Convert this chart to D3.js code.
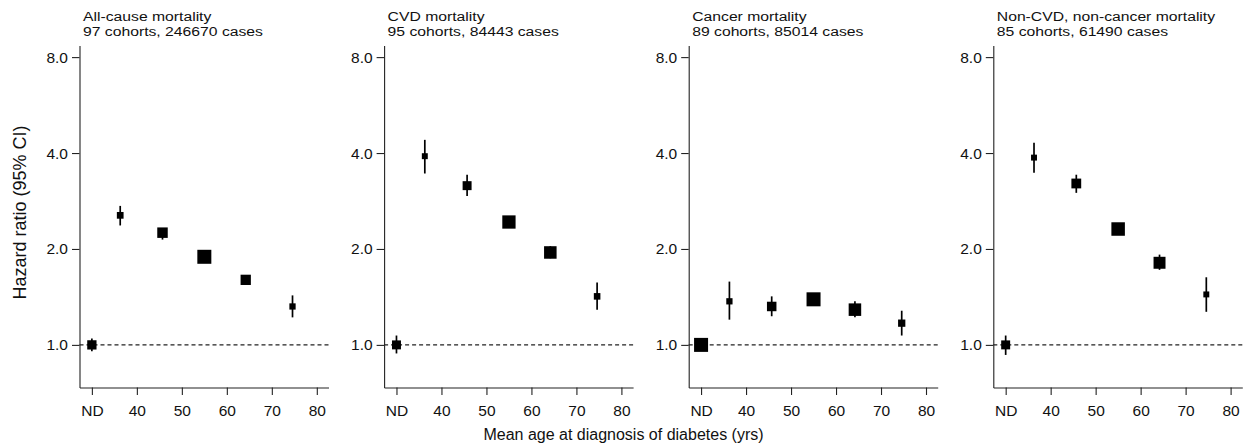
<!DOCTYPE html>
<html>
<head>
<meta charset="utf-8">
<script src="https://cdn.jsdelivr.net/npm/d3@7"></script>
<style>
  html, body { margin: 0; padding: 0; background: #fff; }
  svg { display: block; font-family: "Liberation Sans", Arial, sans-serif; }
</style>
</head>
<body>
<svg id="chart" width="1247" height="447"></svg>
<script>
// Outcome panels
const panelTitles = ["All-cause mortality", "CVD mortality", "Cancer mortality", "Non-CVD, non-cancer mortality"];
const panelSubtitles = ["97 cohorts, 246670 cases", "95 cohorts, 84443 cases", "89 cohorts, 85014 cases", "85 cohorts, 61490 cases"];

// Mean age at diagnosis for each group (first entry is the no-diabetes reference, plotted at the "ND" tick)
const meanAge = [30, 36.3, 45.7, 55.0, 64.2, 74.6];

// Hazard ratios with 95% CI, one array per outcome
const hrAllCause = [1.00, 2.55, 2.25, 1.89, 1.60, 1.32];
const loAllCause = [0.955, 2.37, 2.14, 1.85, 1.56, 1.22];
const hiAllCause = [1.047, 2.73, 2.32, 1.93, 1.64, 1.43];
const wtAllCause = [0.44, 0.23, 0.56, 1.00, 0.54, 0.20];

const hrCvd = [1.00, 3.91, 3.16, 2.43, 1.95, 1.42];
const loCvd = [0.94, 3.45, 2.93, 2.36, 1.87, 1.29];
const hiCvd = [1.07, 4.40, 3.42, 2.50, 2.04, 1.57];
const wtCvd = [0.41, 0.18, 0.41, 0.90, 0.80, 0.22];

const hrCancer = [1.00, 1.37, 1.32, 1.39, 1.29, 1.17];
const loCancer = [0.97, 1.20, 1.23, 1.35, 1.22, 1.07];
const hiCancer = [1.03, 1.58, 1.42, 1.43, 1.37, 1.28];
const wtCancer = [1.00, 0.20, 0.46, 1.00, 0.80, 0.27];

const hrOther = [1.00, 3.87, 3.21, 2.31, 1.81, 1.44];
const loOther = [0.93, 3.47, 3.00, 2.24, 1.72, 1.27];
const hiOther = [1.07, 4.31, 3.42, 2.38, 1.92, 1.63];
const wtOther = [0.41, 0.18, 0.49, 0.93, 0.73, 0.18];

// Axis ticks
const xTickValues = [30, 40, 50, 60, 70, 80];
const xTickLabels = ["ND", "40", "50", "60", "70", "80"];
const yTickValues = [1, 2, 4, 8];
const yTickLabels = ["1.0", "2.0", "4.0", "8.0"];

const seriesHr = [hrAllCause, hrCvd, hrCancer, hrOther];
const seriesLo = [loAllCause, loCvd, loCancer, loOther];
const seriesHi = [hiAllCause, hiCvd, hiCancer, hiOther];
const seriesWt = [wtAllCause, wtCvd, wtCancer, wtOther];

const svg = d3.select("#chart");

const plotTop = 45.5, plotBottom = 387.5, plotWidth = 249;
const panelLeft0 = 79.5, panelStep = 304.6;

const x = d3.scaleLinear().domain([27.25, 82.6]).range([0, plotWidth]);
const y = d3.scaleLog().domain([0.735, 8.7]).range([plotBottom, plotTop]);
// marker side length from relative weight
const side = d3.scaleSqrt().domain([0, 1]).range([0, 14]);

const axisColor = "#222";

panelTitles.forEach((title, i) => {
  const g = svg.append("g")
    .attr("transform", `translate(${panelLeft0 + i * panelStep},0)`);

  // panel heading (slightly widened lettering)
  const head = g.append("g")
    .attr("transform", "translate(3.5,0) scale(1.165,1)")
    .append("text")
    .attr("font-size", 13.5)
    .attr("fill", "#111");
  head.append("tspan").attr("x", 0).attr("y", 21.3).text(title);
  head.append("tspan").attr("x", 0).attr("y", 36.5).text(panelSubtitles[i]);

  // reference line at HR = 1
  g.append("line")
    .attr("x1", 0).attr("x2", plotWidth)
    .attr("y1", y(1)).attr("y2", y(1))
    .attr("stroke", "#222")
    .attr("stroke-width", 1.2)
    .attr("stroke-dasharray", "4,3");

  // y axis
  const yAxis = g.append("g")
    .call(d3.axisLeft(y)
      .tickValues(yTickValues)
      .tickFormat((d, k) => yTickLabels[k])
      .tickSize(7.5)
      .tickSizeOuter(0)
      .tickPadding(4));

  // x axis
  const xAxis = g.append("g")
    .attr("transform", `translate(0,${plotBottom})`)
    .call(d3.axisBottom(x)
      .tickValues(xTickValues)
      .tickFormat((d, k) => xTickLabels[k])
      .tickSize(7.5)
      .tickSizeOuter(0)
      .tickPadding(10));

  [yAxis, xAxis].forEach(ax => {
    ax.select(".domain").attr("stroke", axisColor).attr("stroke-width", 1.1);
    ax.selectAll(".tick line").attr("stroke", axisColor).attr("stroke-width", 1.1);
    ax.selectAll(".tick text")
      .attr("font-size", 15.5)
      .attr("font-family", "'Liberation Sans', Arial, sans-serif")
      .attr("fill", "#111");
  });

  const pts = meanAge.map((a, k) => ({
    age: a,
    hr: seriesHr[i][k],
    lo: seriesLo[i][k],
    hi: seriesHi[i][k],
    w: seriesWt[i][k]
  }));

  // confidence intervals
  g.selectAll("line.ci")
    .data(pts)
    .join("line")
    .attr("class", "ci")
    .attr("x1", d => x(d.age)).attr("x2", d => x(d.age))
    .attr("y1", d => y(d.lo)).attr("y2", d => y(d.hi))
    .attr("stroke", "#000")
    .attr("stroke-width", 1.7);

  // weighted point estimates
  g.selectAll("rect.est")
    .data(pts)
    .join("rect")
    .attr("class", "est")
    .attr("x", d => x(d.age) - side(d.w) / 2)
    .attr("y", d => y(d.hr) - side(d.w) / 2)
    .attr("width", d => side(d.w))
    .attr("height", d => side(d.w))
    .attr("fill", "#000");
});

// shared axis titles
svg.append("text")
  .attr("transform", "translate(19.5,212.5) rotate(-90)")
  .attr("text-anchor", "middle")
  .attr("dy", "0.36em")
  .attr("font-size", 18)
  .attr("fill", "#111")
  .text("Hazard ratio (95% CI)");

svg.append("text")
  .attr("x", 623.5)
  .attr("y", 440)
  .attr("text-anchor", "middle")
  .attr("font-size", 16)
  .attr("fill", "#111")
  .text("Mean age at diagnosis of diabetes (yrs)");
</script>
</body>
</html>
